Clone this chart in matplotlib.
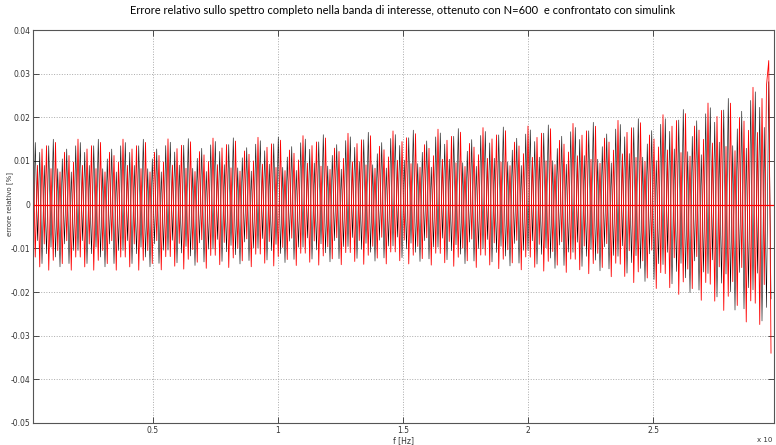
import numpy as np
import matplotlib
matplotlib.use("Agg")
import matplotlib.pyplot as plt

# ---- data ----
# frequency axis in units of 1e4 Hz (90 Hz spacing)
f_start, f_stop, f_step = 0.02, 2.98, 0.009

# envelope (upper / lower peak of the error) read at these frequencies
env_f     = [0.02, 0.5, 1.0, 1.5, 2.0, 2.3, 2.5, 2.7, 2.85, 2.93, 2.98]
env_upper = [0.015, 0.015, 0.0155, 0.017, 0.018, 0.019, 0.020, 0.023, 0.025, 0.028, 0.033]
env_lower = [0.015, 0.015, 0.014, 0.0135, 0.015, 0.016, 0.019, 0.022, 0.026, 0.029, 0.034]

# one repeating beat cycle (fraction of envelope) read from the strokes
red_cycle   = [1.00, -0.80, 0.60, -0.95, 0.85, -0.60, 0.90, -1.00, 0.55, -0.85,
               0.95, -0.70, 0.50, -0.90, 0.80, -0.55, 0.75, -1.00, 0.65, -0.80]
black_cycle = [-0.70, 0.95, -0.55, 0.80, -0.90, 0.60, -0.75, 0.90, -0.65, 1.00,
               -0.80, 0.55, -0.95, 0.70, -0.60, 0.85, -0.90, 0.50, -0.70, 0.90]

title_text = ("Errore relativo sullo spettro completo nella banda di interesse, "
              "ottenuto con N=600  e confrontato con simulink")
yticks = [-0.05, -0.04, -0.03, -0.02, -0.01, 0, 0.01, 0.02, 0.03, 0.04]
ytick_labels = ["-0.05", "-0.04", "-0.03", "-0.02", "-0.01", "0",
                "0.01", "0.02", "0.03", "0.04"]
xticks = [0.5, 1, 1.5, 2, 2.5]
xtick_labels = ["0.5", "1", "1.5", "2", "2.5"]

# ---- build series ----
f = np.arange(f_start, f_stop + 1e-9, f_step)
up = np.interp(f, env_f, env_upper)
lo = np.interp(f, env_f, env_lower)

def build(cycle):
    c = np.resize(np.array(cycle), f.size)
    return np.where(c >= 0, c * up, c * lo)

red = build(red_cycle)
black = build(black_cycle)
red[-1] = -env_lower[-1]
red[-2] = env_upper[-1]

# ---- figure ----
fig = plt.figure(figsize=(7.76, 4.45), dpi=100)
ax = fig.add_axes([33/776, 22/445, 741/776, 393/445])

ax.plot(f, black, color="black", lw=0.4)
ax.plot(f, red, color="red", lw=0.6)
ax.axhline(0, color="red", lw=0.9)

ax.set_xlim(0.02, 2.984)
ax.set_ylim(-0.05, 0.04)
ax.set_xticks(xticks)
ax.set_xticklabels(xtick_labels)
ax.set_yticks(yticks)
ax.set_yticklabels(ytick_labels)
ax.tick_params(direction="in", length=4, width=0.6, labelsize=5.5,
               colors="#333333", top=True, right=True, pad=2)
ax.grid(True, ls=":", color="#aaaaaa", lw=0.7)
for s in ax.spines.values():
    s.set_color("#555555")
    s.set_linewidth(0.8)

ax.set_xlabel("f [Hz]", fontsize=5.5, labelpad=1, color="#333333")
fig.text(10/776, 1 - 204/445, "errore relativo [%]", rotation=90,
         ha="center", va="center", fontsize=5, color="#333333")
fig.text(403/776, 1 - 11/445, title_text, ha="center", va="center",
         fontsize=8, family=["Lato", "DejaVu Sans"])
fig.text(757/776, 1 - 440/445, "x 10", fontsize=5, ha="left", va="center",
         color="#333333")

fig.savefig("out.png", dpi=100)
